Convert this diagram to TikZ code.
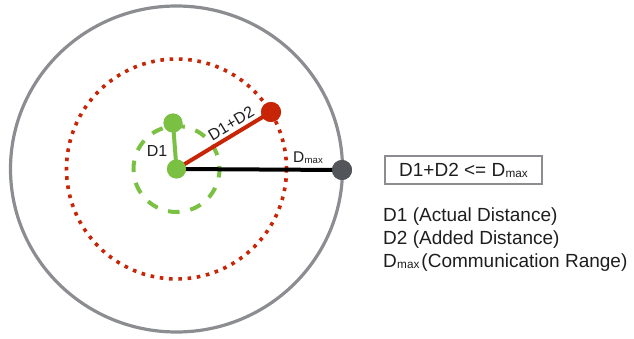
\documentclass[tikz,border=0pt]{standalone}
\usepackage{fontspec}
\usepackage{graphicx}
\setmainfont{Liberation Sans}
\definecolor{ngreen}{HTML}{7AC143}
\definecolor{nred}{HTML}{C82506}
\definecolor{ndark}{HTML}{52565B}
\definecolor{ngray}{HTML}{8C8D91}
\definecolor{ntext}{HTML}{1E1E1E}
\newcommand\Dmx{D\kern0.3pt\raisebox{-0.06em}{\scalebox{0.62}{max}}}
\tikzset{
  dot/.style={circle,inner sep=0pt,minimum size=#1},
  lbl/.style={text=ntext,font=\fontsize{16}{19}\selectfont,inner sep=0pt},
  legend/.style={text=ntext,font=\fontsize{19}{23}\selectfont,inner sep=0pt,anchor=base west},
}
\begin{document}
\begin{tikzpicture}[x=1pt,y=-1pt]
\useasboundingbox (0,0) rectangle (634,339);
\coordinate (c) at (176.5,169);
% circles
\draw[ngray,line width=3.2pt] (c) ellipse [x radius=166, y radius=163];
\draw[nred,line width=3.6pt,dash pattern=on 3.6pt off 5.7pt] (c) circle [radius=110];
\draw[ngreen,line width=4pt,dash pattern=on 11.5pt off 11pt,dash phase=3pt] (c) circle [radius=43];
% nodes
\node[dot=19pt,fill=ngreen] (g0) at (c) {};
\node[dot=19pt,fill=ngreen] (g1) at (173,123) {};
\node[dot=20pt,fill=nred] (r) at (271,112) {};
\node[dot=20pt,fill=ndark] (k) at (342,170) {};
% connectors
\draw[black,line width=4pt] (g0.center) -- (k.center);
\draw[nred,line width=4pt] (g0.center) -- (r.center);
\draw[ngreen,line width=4pt] (g0.center) -- (g1.center);
\node[dot=19pt,fill=ngreen] at (g0) {};
\node[dot=19pt,fill=ngreen] at (g1) {};
\node[dot=20pt,fill=nred] at (r) {};
\node[dot=20pt,fill=ndark] at (k) {};
% labels
\node[lbl] (l1) at (157,151) {D1};
\node[lbl,rotate=31] (l2) at (231,123.5) {D1+D2};
\node[lbl,font=\fontsize{15.5}{18}\selectfont] (l3) at (308,158) {\Dmx};
% box
\node[draw=ngray,line width=1.4pt,minimum width=157pt,minimum height=28pt,inner sep=0pt,
      text=ntext,font=\fontsize{19}{23}\selectfont] (box) at (463.5,170) {D1+D2 <= \Dmx};
% legend
\node[legend] (t1) at (383,221) {D1 (Actual Distance)};
\node[legend] (t2) at (383,244) {D2 (Added Distance)};
\node[legend] (t3) at (383,267) {\Dmx\kern2pt(Communication Range)};
\end{tikzpicture}
\end{document}
